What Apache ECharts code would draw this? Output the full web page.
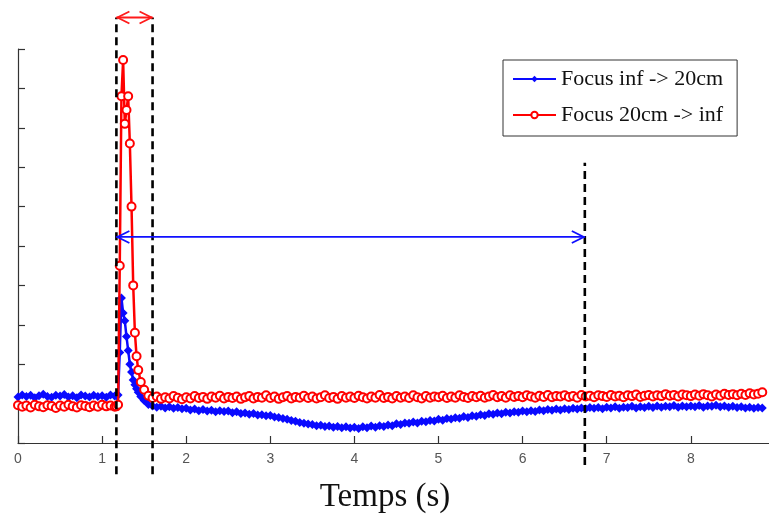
<!DOCTYPE html>
<html><head><meta charset="utf-8">
<script src="https://cdn.jsdelivr.net/npm/echarts@6/dist/echarts.min.js"></script>
<style>html,body{margin:0;padding:0;background:#fff}#c{width:769px;height:517px}</style>
</head><body><div id="c"></div>
<script>
const seriesNames = ['Focus inf -> 20cm', 'Focus 20cm -> inf'];
const xAxisTitle = 'Temps (s)';
const xTickValues = [0, 1, 2, 3, 4, 5, 6, 7, 8];

const times = [
  0,0.05,0.1,0.15,0.2,0.25,0.3,0.35,0.4,0.45,0.5,0.55,0.6,0.65,0.7,0.75,0.8,0.85,0.9,0.95,1,1.05,1.1,1.15,
  1.17,1.19,1.21,1.23,1.25,1.27,1.29,1.31,1.33,1.35,1.37,1.39,1.41,1.43,1.46,1.5,1.55,
  1.6,1.65,1.7,1.75,1.8,1.85,1.9,1.95,
  2,2.05,2.1,2.15,2.2,2.25,2.3,2.35,2.4,2.45,
  2.5,2.55,2.6,2.65,2.7,2.75,2.8,2.85,2.9,2.95,
  3,3.05,3.1,3.15,3.2,3.25,3.3,3.35,3.4,3.45,
  3.5,3.55,3.6,3.65,3.7,3.75,3.8,3.85,3.9,3.95,
  4,4.05,4.1,4.15,4.2,4.25,4.3,4.35,4.4,4.45,
  4.5,4.55,4.6,4.65,4.7,4.75,4.8,4.85,4.9,4.95,
  5,5.05,5.1,5.15,5.2,5.25,5.3,5.35,5.4,5.45,
  5.5,5.55,5.6,5.65,5.7,5.75,5.8,5.85,5.9,5.95,
  6,6.05,6.1,6.15,6.2,6.25,6.3,6.35,6.4,6.45,
  6.5,6.55,6.6,6.65,6.7,6.75,6.8,6.85,6.9,6.95,
  7,7.05,7.1,7.15,7.2,7.25,7.3,7.35,7.4,7.45,
  7.5,7.55,7.6,7.65,7.7,7.75,7.8,7.85,7.9,7.95,
  8,8.05,8.1,8.15,8.2,8.25,8.3,8.35,8.4,8.45,
  8.5,8.55,8.6,8.65,8.7,8.75,8.8,8.85
];

const blueValues = [
  1.17,1.22,1.18,1.21,1.15,1.20,1.24,1.18,1.16,1.21,1.19,1.23,1.17,1.20,1.15,1.22,1.19,1.17,1.21,1.18,1.20,1.16,1.22,1.19,
  1.20,1.22,2.30,3.68,3.30,3.10,2.70,2.35,2.00,1.80,1.60,1.48,1.38,1.29,1.18,1.08,0.98,
  0.94,0.91,0.93,0.89,0.92,0.88,0.90,0.87,
  0.88,0.84,0.86,0.82,0.85,0.81,0.83,0.79,0.82,0.80,
  0.81,0.77,0.79,0.75,0.76,0.73,0.75,0.71,0.72,0.69,
  0.70,0.66,0.65,0.62,0.60,0.57,0.55,0.52,0.50,0.48,
  0.47,0.44,0.45,0.42,0.43,0.40,0.42,0.39,0.41,0.38,
  0.40,0.37,0.41,0.39,0.43,0.40,0.44,0.42,0.46,0.44,
  0.49,0.47,0.51,0.50,0.53,0.51,0.55,0.54,0.57,0.56,
  0.60,0.58,0.62,0.61,0.64,0.63,0.67,0.65,0.69,0.68,
  0.72,0.70,0.74,0.73,0.76,0.74,0.78,0.76,0.79,0.78,
  0.81,0.79,0.82,0.80,0.84,0.82,0.85,0.83,0.86,0.84,
  0.87,0.85,0.88,0.86,0.89,0.87,0.90,0.88,0.90,0.87,
  0.91,0.89,0.92,0.88,0.91,0.90,0.93,0.89,0.92,0.90,
  0.93,0.90,0.94,0.91,0.93,0.92,0.95,0.91,0.94,0.92,
  0.94,0.92,0.95,0.91,0.94,0.93,0.96,0.92,0.94,0.91,
  0.93,0.90,0.92,0.89,0.91,0.88,0.90,0.89
];

const redValues = [
  0.96,0.92,0.95,0.90,0.97,0.93,0.91,0.96,0.94,0.89,0.95,0.92,0.97,0.93,0.90,0.96,0.94,0.91,0.95,0.92,0.97,0.93,0.95,0.92,
  0.93,0.97,4.50,8.80,9.72,8.10,8.45,8.80,7.60,6.00,4.00,2.80,2.20,1.85,1.55,1.35,1.20,
  1.14,1.18,1.12,1.16,1.13,1.19,1.15,1.11,
  1.16,1.13,1.19,1.14,1.17,1.12,1.18,1.15,1.20,1.13,
  1.17,1.14,1.18,1.12,1.16,1.19,1.13,1.17,1.15,1.21,
  1.14,1.18,1.12,1.16,1.19,1.13,1.17,1.15,1.20,1.14,
  1.18,1.13,1.16,1.21,1.14,1.17,1.12,1.19,1.15,1.18,
  1.14,1.20,1.16,1.13,1.18,1.15,1.22,1.14,1.17,1.13,
  1.19,1.15,1.18,1.14,1.21,1.16,1.13,1.19,1.15,1.18,
  1.16,1.20,1.14,1.18,1.15,1.21,1.17,1.14,1.19,1.16,
  1.20,1.15,1.18,1.22,1.16,1.19,1.15,1.21,1.17,1.19,
  1.16,1.21,1.18,1.15,1.20,1.17,1.22,1.16,1.19,1.18,
  1.21,1.17,1.19,1.15,1.22,1.18,1.20,1.16,1.21,1.19,
  1.17,1.22,1.18,1.20,1.16,1.21,1.19,1.23,1.17,1.20,
  1.22,1.18,1.21,1.19,1.24,1.20,1.22,1.18,1.23,1.21,
  1.19,1.23,1.20,1.24,1.21,1.18,1.23,1.20,1.25,1.22,
  1.24,1.21,1.25,1.22,1.26,1.23,1.25,1.29
];

// vertical dashed guides: [x, yFrom, yTo] in data units
const dashedGuides = [[1.17, -0.79, 10.8], [1.6, -0.79, 10.8], [6.74, -0.56, 7.11]];
// double arrows: [xFrom, xTo, y] in data units
const spanArrows = [[1.17, 1.6, 10.8], [1.17, 6.74, 5.23]];
const arrowColors = ['#ff1a1a', '#1010ff'];

const chart = echarts.init(document.getElementById('c'), null, {renderer: 'canvas'});

function renderGuide(params, api) {
  const p1 = api.coord([api.value(0), api.value(1)]);
  const p2 = api.coord([api.value(0), api.value(2)]);
  return {type: 'line', shape: {x1: p1[0], y1: p1[1], x2: p2[0], y2: p2[1]},
    style: {stroke: '#000', lineWidth: 2.6, lineDash: [8, 5]}};
}
function renderArrow(params, api) {
  const y = api.value(2);
  const p1 = api.coord([api.value(0), y]);
  const p2 = api.coord([api.value(1), y]);
  const c = arrowColors[params.dataIndex];
  const h = 13, w = 6;
  const st = {stroke: c, lineWidth: 1.8, fill: null};
  return {type: 'group', children: [
    {type: 'line', shape: {x1: p1[0], y1: p1[1], x2: p2[0], y2: p2[1]}, style: st},
    {type: 'polyline', shape: {points: [[p1[0] + h, p1[1] - w], [p1[0] + 1, p1[1]], [p1[0] + h, p1[1] + w]]}, style: st},
    {type: 'polyline', shape: {points: [[p2[0] - h, p2[1] - w], [p2[0] - 1, p2[1]], [p2[0] - h, p2[1] + w]]}, style: st}
  ]};
}

chart.setOption({
  animation: false,
  backgroundColor: '#fff',
  grid: {left: 18, right: 0, top: 49, bottom: 74, containLabel: false},
  xAxis: {
    type: 'value', min: 0, max: 8.93,
    axisLine: {lineStyle: {color: '#333', width: 1.2}},
    axisTick: {inside: true, length: 7, customValues: xTickValues, lineStyle: {color: '#333', width: 1.2}},
    axisLabel: {customValues: xTickValues, color: '#555', fontSize: 14, margin: 9, fontFamily: 'Liberation Sans'},
    splitLine: {show: false}
  },
  yAxis: {
    type: 'value', min: 0, max: 10, interval: 1,
    axisLine: {show: true, lineStyle: {color: '#333', width: 1.2}},
    axisTick: {show: true, inside: true, length: 7, lineStyle: {color: '#333', width: 1.2}},
    axisLabel: {show: false},
    splitLine: {show: false}
  },
  legend: {
    data: seriesNames,
    orient: 'vertical',
    left: 503, top: 60,
    padding: [8, 14, 10, 9],
    itemGap: 14,
    itemWidth: 43, itemHeight: 8,
    backgroundColor: '#fff',
    borderColor: '#333', borderWidth: 1,
    textStyle: {fontFamily: 'Liberation Serif', fontSize: 22, color: '#111'}
  },
  graphic: [{
    type: 'text', x: 385, y: 497,
    style: {text: xAxisTitle, font: '33px "Liberation Serif"', fill: '#111', textAlign: 'center', textVerticalAlign: 'middle'}
  }],
  series: [
    {
      name: seriesNames[0], type: 'line',
      data: times.map((t, i) => [t, blueValues[i]]),
      color: '#0a0aff',
      lineStyle: {width: 2.5},
      symbol: 'diamond', symbolSize: 9,
      itemStyle: {color: '#0a0aff'},
      z: 2
    },
    {
      name: seriesNames[1], type: 'line',
      data: times.map((t, i) => [t, redValues[i]]),
      color: '#ff0000',
      lineStyle: {width: 2.5},
      symbol: 'emptyCircle', symbolSize: 8,
      itemStyle: {color: '#ff0000', borderWidth: 2},
      z: 3
    },
    {
      type: 'custom', renderItem: renderGuide, data: dashedGuides,
      clip: false, silent: true, z: 5
    },
    {
      type: 'custom', renderItem: renderArrow, data: spanArrows,
      clip: false, silent: true, z: 6
    }
  ]
});
</script>
</body></html>
